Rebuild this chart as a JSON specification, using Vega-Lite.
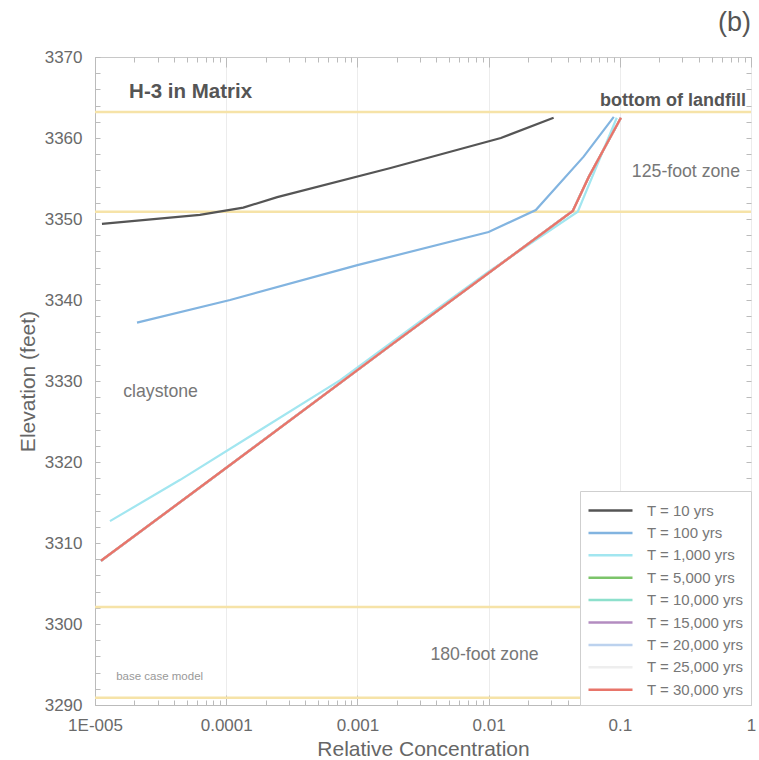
{
  "$schema": "https://vega.github.io/schema/vega-lite/v6.json",
  "width": 656,
  "height": 648,
  "autosize": {"type": "none"},
  "padding": {"left": 95, "top": 57, "right": 8, "bottom": 55},
  "background": "white",
  "title": {"text": "(b)", "anchor": "end", "frame": "group", "fontSize": 27, "font": "Liberation Sans", "fontWeight": "normal", "color": "#555555", "baseline": "alphabetic", "offset": 26, "dy": 36},
  "config": {"view": {"stroke": "#c8c8c8"}, "font": "Liberation Sans"},
  "datasets": {
    "bounds": [{"e": 3363.2}, {"e": 3350.9}, {"e": 3302.1}, {"e": 3290.9}],
    "series": [
      {"s": "T = 10 yrs", "c": 0.0000113, "e": 3349.4},
      {"s": "T = 10 yrs", "c": 0.000063, "e": 3350.5},
      {"s": "T = 10 yrs", "c": 0.000135, "e": 3351.4},
      {"s": "T = 10 yrs", "c": 0.000245, "e": 3352.7},
      {"s": "T = 10 yrs", "c": 0.00179, "e": 3356.3},
      {"s": "T = 10 yrs", "c": 0.0124, "e": 3360.0},
      {"s": "T = 10 yrs", "c": 0.0313, "e": 3362.5},
      {"s": "T = 100 yrs", "c": 0.0000209, "e": 3337.2},
      {"s": "T = 100 yrs", "c": 0.000107, "e": 3340.0},
      {"s": "T = 100 yrs", "c": 0.001, "e": 3344.3},
      {"s": "T = 100 yrs", "c": 0.01, "e": 3348.4},
      {"s": "T = 100 yrs", "c": 0.0229, "e": 3351.1},
      {"s": "T = 100 yrs", "c": 0.053, "e": 3357.7},
      {"s": "T = 100 yrs", "c": 0.09, "e": 3362.6},
      {"s": "T = 1,000 yrs", "c": 0.000013, "e": 3312.7},
      {"s": "T = 1,000 yrs", "c": 0.0000446, "e": 3317.8},
      {"s": "T = 1,000 yrs", "c": 0.00074, "e": 3330.1},
      {"s": "T = 1,000 yrs", "c": 0.0036, "e": 3338.3},
      {"s": "T = 1,000 yrs", "c": 0.01, "e": 3343.5},
      {"s": "T = 1,000 yrs", "c": 0.0478, "e": 3350.9},
      {"s": "T = 1,000 yrs", "c": 0.0948, "e": 3362.5},
      {"s": "T = 5,000 yrs", "c": 0.0000111, "e": 3307.8},
      {"s": "T = 5,000 yrs", "c": 0.0000755, "e": 3317.8},
      {"s": "T = 5,000 yrs", "c": 0.00179, "e": 3334.4},
      {"s": "T = 5,000 yrs", "c": 0.0438, "e": 3351.0},
      {"s": "T = 5,000 yrs", "c": 0.058, "e": 3355.2},
      {"s": "T = 5,000 yrs", "c": 0.102, "e": 3362.5},
      {"s": "T = 10,000 yrs", "c": 0.0000111, "e": 3307.8},
      {"s": "T = 10,000 yrs", "c": 0.0000755, "e": 3317.8},
      {"s": "T = 10,000 yrs", "c": 0.00179, "e": 3334.4},
      {"s": "T = 10,000 yrs", "c": 0.0438, "e": 3351.0},
      {"s": "T = 10,000 yrs", "c": 0.058, "e": 3355.2},
      {"s": "T = 10,000 yrs", "c": 0.102, "e": 3362.5},
      {"s": "T = 15,000 yrs", "c": 0.0000111, "e": 3307.8},
      {"s": "T = 15,000 yrs", "c": 0.0000755, "e": 3317.8},
      {"s": "T = 15,000 yrs", "c": 0.00179, "e": 3334.4},
      {"s": "T = 15,000 yrs", "c": 0.0438, "e": 3351.0},
      {"s": "T = 15,000 yrs", "c": 0.058, "e": 3355.2},
      {"s": "T = 15,000 yrs", "c": 0.102, "e": 3362.5},
      {"s": "T = 20,000 yrs", "c": 0.0000111, "e": 3307.8},
      {"s": "T = 20,000 yrs", "c": 0.0000755, "e": 3317.8},
      {"s": "T = 20,000 yrs", "c": 0.00179, "e": 3334.4},
      {"s": "T = 20,000 yrs", "c": 0.0438, "e": 3351.0},
      {"s": "T = 20,000 yrs", "c": 0.058, "e": 3355.2},
      {"s": "T = 20,000 yrs", "c": 0.102, "e": 3362.5},
      {"s": "T = 25,000 yrs", "c": 0.0000111, "e": 3307.8},
      {"s": "T = 25,000 yrs", "c": 0.0000755, "e": 3317.8},
      {"s": "T = 25,000 yrs", "c": 0.00179, "e": 3334.4},
      {"s": "T = 25,000 yrs", "c": 0.0438, "e": 3351.0},
      {"s": "T = 25,000 yrs", "c": 0.058, "e": 3355.2},
      {"s": "T = 25,000 yrs", "c": 0.102, "e": 3362.5},
      {"s": "T = 30,000 yrs", "c": 0.0000111, "e": 3307.8},
      {"s": "T = 30,000 yrs", "c": 0.0000755, "e": 3317.8},
      {"s": "T = 30,000 yrs", "c": 0.00179, "e": 3334.4},
      {"s": "T = 30,000 yrs", "c": 0.0438, "e": 3351.0},
      {"s": "T = 30,000 yrs", "c": 0.058, "e": 3355.2},
      {"s": "T = 30,000 yrs", "c": 0.102, "e": 3362.5}
    ],
    "boldBig": [{"t": "H-3 in Matrix", "c": 0.0000182, "e": 3365.7}],
    "boldRight": [{"t": "bottom of landfill", "c": 0.916, "e": 3364.6}],
    "zones": [
      {"t": "125-foot zone", "c": 0.1236, "e": 3355.8},
      {"t": "claystone", "c": 0.0000164, "e": 3328.7},
      {"t": "180-foot zone", "c": 0.0036, "e": 3296.2}
    ],
    "small": [{"t": "base case model", "c": 0.0000145, "e": 3293.5}]
  },
  "resolve": {"axis": {"x": "independent", "y": "independent"}},
  "layer": [
    {
      "data": {"name": "bounds"},
      "mark": {"type": "rule", "color": "#f6e3a8", "strokeWidth": 2.5},
      "encoding": {
        "y": {"field": "e", "type": "quantitative", "scale": {"domain": [3290, 3370], "nice": false}, "axis": null}
      }
    },
    {
      "data": {"name": "series"},
      "transform": [{"filter": "datum.s !== 'T = 30,000 yrs'"}],
      "mark": {"type": "line", "strokeWidth": 2.2},
      "encoding": {
        "x": {
          "field": "c", "type": "quantitative",
          "scale": {"type": "log", "domain": [0.00001, 1], "nice": false},
          "axis": {
            "orient": "bottom",
            "values": [0.00001,0.00002,0.00003,0.00004,0.00005,0.00006,0.00007,0.00008,0.00009,0.0001,0.0002,0.0003,0.0004,0.0005,0.0006,0.0007,0.0008,0.0009,0.001,0.002,0.003,0.004,0.005,0.006,0.007,0.008,0.009,0.01,0.02,0.03,0.04,0.05,0.06,0.07,0.08,0.09,0.1,0.2,0.3,0.4,0.5,0.6,0.7,0.8,0.9,1],
            "labelExpr": "datum.value < 0.000015 ? '1E-005' : (abs(log(datum.value)/LN10 - round(log(datum.value)/LN10)) < 0.001 ? format(datum.value, '~g') : '')",
            "labelOverlap": false,
            "labelFlush": false,
            "tickSize": {"condition": {"test": "abs(log(datum.value)/LN10 - round(log(datum.value)/LN10)) < 0.001", "value": -10}, "value": -5},
            "grid": true,
            "gridColor": "#ececec",
            "gridOpacity": {"condition": {"test": "abs(log(datum.value)/LN10 - round(log(datum.value)/LN10)) < 0.001", "value": 1}, "value": 0},
            "domainColor": "#bbbbbb",
            "tickColor": "#bbbbbb",
            "labelFont": "Liberation Sans",
            "labelFontSize": 17,
            "labelColor": "#6a6a6a",
            "labelPadding": 22,
            "title": "Relative Concentration",
            "titleFont": "Liberation Sans",
            "titleFontSize": 21,
            "titleFontWeight": "normal",
            "titleColor": "#666666",
            "titlePadding": 0
          }
        },
        "y": {
          "field": "e", "type": "quantitative",
          "scale": {"domain": [3290, 3370], "nice": false},
          "axis": {
            "orient": "left",
            "values": [3290,3292,3294,3296,3298,3300,3302,3304,3306,3308,3310,3312,3314,3316,3318,3320,3322,3324,3326,3328,3330,3332,3334,3336,3338,3340,3342,3344,3346,3348,3350,3352,3354,3356,3358,3360,3362,3364,3366,3368,3370],
            "labelExpr": "datum.value % 10 === 0 ? datum.label : ''",
            "format": "d",
            "labelOverlap": false,
            "tickSize": -5,
            "grid": false,
            "domainColor": "#bbbbbb",
            "tickColor": "#bbbbbb",
            "labelFont": "Liberation Sans",
            "labelFontSize": 17,
            "labelColor": "#6a6a6a",
            "labelPadding": 18,
            "title": "Elevation (feet)",
            "titleFont": "Liberation Sans",
            "titleFontSize": 21,
            "titleFontWeight": "normal",
            "titleColor": "#666666",
            "titlePadding": 6
          }
        },
        "color": {
          "field": "s", "type": "nominal",
          "scale": {
            "domain": ["T = 10 yrs", "T = 100 yrs", "T = 1,000 yrs", "T = 5,000 yrs", "T = 10,000 yrs", "T = 15,000 yrs", "T = 20,000 yrs", "T = 25,000 yrs", "T = 30,000 yrs"],
            "range": ["#555555", "#82b4e0", "#a2e6f0", "#7cc46a", "#8de0cc", "#b38cc0", "#bcd2ee", "#eeeeee", "#e8756a"]
          },
          "legend": {
            "title": null, "orient": "bottom-right", "offset": 0, "padding": 7,
            "fillColor": "white", "strokeColor": "#cfcfcf",
            "symbolType": "M-1,0H3", "symbolSize": 484, "symbolStrokeWidth": 2.5,
            "labelFont": "Liberation Sans", "labelFontSize": 15, "labelColor": "#777777",
            "labelOffset": 35, "rowPadding": 1.4, "labelLimit": 200
          }
        }
      }
    },
    {
      "data": {"name": "series"},
      "transform": [{"filter": "datum.s === 'T = 30,000 yrs'"}],
      "mark": {"type": "line", "strokeWidth": 2.4},
      "encoding": {
        "x": {"field": "c", "type": "quantitative", "scale": {"type": "log", "domain": [0.00001, 1], "nice": false}, "axis": null},
        "y": {"field": "e", "type": "quantitative", "scale": {"domain": [3290, 3370], "nice": false}, "axis": null},
        "color": {
          "field": "s", "type": "nominal",
          "scale": {
            "domain": ["T = 10 yrs", "T = 100 yrs", "T = 1,000 yrs", "T = 5,000 yrs", "T = 10,000 yrs", "T = 15,000 yrs", "T = 20,000 yrs", "T = 25,000 yrs", "T = 30,000 yrs"],
            "range": ["#555555", "#82b4e0", "#a2e6f0", "#7cc46a", "#8de0cc", "#b38cc0", "#bcd2ee", "#eeeeee", "#e8756a"]
          },
          "legend": {
            "title": null, "orient": "bottom-right", "offset": 0, "padding": 7,
            "fillColor": "white", "strokeColor": "#cfcfcf",
            "symbolType": "M-1,0H3", "symbolSize": 484, "symbolStrokeWidth": 2.5,
            "labelFont": "Liberation Sans", "labelFontSize": 15, "labelColor": "#777777",
            "labelOffset": 35, "rowPadding": 1.4, "labelLimit": 200
          }
        }
      }
    },
    {
      "data": {"name": "boldBig"},
      "mark": {"type": "text", "align": "left", "baseline": "middle", "fontSize": 20.5, "fontWeight": "bold", "font": "Liberation Sans", "color": "#555555"},
      "encoding": {
        "x": {"field": "c", "type": "quantitative", "scale": {"type": "log", "domain": [0.00001, 1], "nice": false}, "axis": null},
        "y": {"field": "e", "type": "quantitative", "scale": {"domain": [3290, 3370], "nice": false}, "axis": null},
        "text": {"field": "t"}
      }
    },
    {
      "data": {"name": "boldRight"},
      "mark": {"type": "text", "align": "right", "baseline": "middle", "fontSize": 18, "fontWeight": "bold", "font": "Liberation Sans", "color": "#555555"},
      "encoding": {
        "x": {"field": "c", "type": "quantitative", "scale": {"type": "log", "domain": [0.00001, 1], "nice": false}, "axis": null},
        "y": {"field": "e", "type": "quantitative", "scale": {"domain": [3290, 3370], "nice": false}, "axis": null},
        "text": {"field": "t"}
      }
    },
    {
      "data": {"name": "zones"},
      "mark": {"type": "text", "align": "left", "baseline": "middle", "fontSize": 17.7, "font": "Liberation Sans", "color": "#777777"},
      "encoding": {
        "x": {
          "field": "c", "type": "quantitative",
          "scale": {"type": "log", "domain": [0.00001, 1], "nice": false},
          "axis": {
            "orient": "top",
            "values": [0.00001,0.00002,0.00003,0.00004,0.00005,0.00006,0.00007,0.00008,0.00009,0.0001,0.0002,0.0003,0.0004,0.0005,0.0006,0.0007,0.0008,0.0009,0.001,0.002,0.003,0.004,0.005,0.006,0.007,0.008,0.009,0.01,0.02,0.03,0.04,0.05,0.06,0.07,0.08,0.09,0.1,0.2,0.3,0.4,0.5,0.6,0.7,0.8,0.9,1],
            "labels": false,
            "domain": false,
            "grid": false,
            "title": null,
            "tickColor": "#bbbbbb",
            "tickSize": {"condition": {"test": "abs(log(datum.value)/LN10 - round(log(datum.value)/LN10)) < 0.001", "value": -10}, "value": -5}
          }
        },
        "y": {
          "field": "e", "type": "quantitative",
          "scale": {"domain": [3290, 3370], "nice": false},
          "axis": {
            "orient": "right",
            "values": [3290,3292,3294,3296,3298,3300,3302,3304,3306,3308,3310,3312,3314,3316,3318,3320,3322,3324,3326,3328,3330,3332,3334,3336,3338,3340,3342,3344,3346,3348,3350,3352,3354,3356,3358,3360,3362,3364,3366,3368,3370],
            "labels": false,
            "domain": false,
            "grid": false,
            "title": null,
            "tickColor": "#bbbbbb",
            "tickSize": -5
          }
        },
        "text": {"field": "t"}
      }
    },
    {
      "data": {"name": "small"},
      "mark": {"type": "text", "align": "left", "baseline": "middle", "fontSize": 11.5, "font": "Liberation Sans", "color": "#999999"},
      "encoding": {
        "x": {"field": "c", "type": "quantitative", "scale": {"type": "log", "domain": [0.00001, 1], "nice": false}, "axis": null},
        "y": {"field": "e", "type": "quantitative", "scale": {"domain": [3290, 3370], "nice": false}, "axis": null},
        "text": {"field": "t"}
      }
    }
  ]
}
